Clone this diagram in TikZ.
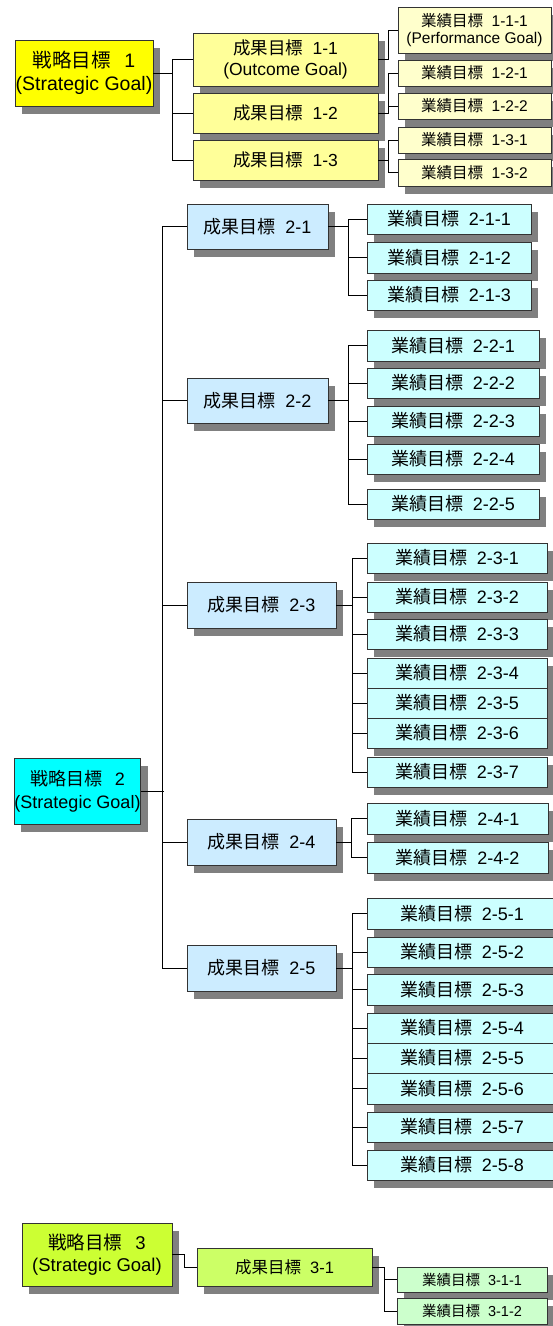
\documentclass[tikz,border=0pt]{standalone}
\usepackage{fontspec}
\setmainfont{Liberation Sans}
\newfontfamily\cjk{Noto Sans CJK JP}
\usetikzlibrary{shadows}
\definecolor{sgone}{HTML}{FFFF00}
\definecolor{ogone}{HTML}{FFFF99}
\definecolor{pgone}{HTML}{FFFFCC}
\definecolor{sgtwo}{HTML}{00FFFF}
\definecolor{ogtwo}{HTML}{CCECFF}
\definecolor{pgtwo}{HTML}{CCFFFF}
\definecolor{sgthree}{HTML}{CCFF33}
\definecolor{ogthree}{HTML}{CCFF66}
\definecolor{pgthree}{HTML}{CCFFCC}
\definecolor{shade}{HTML}{808080}
\newcommand\jlabel[3][0.55em]{{\cjk #2}\hspace{#1}#3}
\tikzset{
  gbox/.style={draw=black!80, line width=0.8pt, inner sep=0pt, align=center,
    drop shadow={shadow xshift=7pt, shadow yshift=-8pt, fill=shade, opacity=1}},
  conn/.style={draw=black, line width=0.9pt},
  sgA/.style={gbox, fill=sgone, font=\fontsize{19.5}{23.5}\selectfont},
  ogA/.style={gbox, fill=ogone, font=\fontsize{17.5}{21}\selectfont},
  pgA/.style={gbox, fill=pgone, font=\fontsize{15.5}{17}\selectfont},
  sgB/.style={gbox, fill=sgtwo, font=\fontsize{18}{23}\selectfont},
  ogB/.style={gbox, fill=ogtwo, font=\fontsize{18}{21}\selectfont},
  pgB/.style={gbox, fill=pgtwo, font=\fontsize{18}{21}\selectfont},
  sgC/.style={gbox, fill=sgthree, font=\fontsize{18.5}{22}\selectfont},
  ogC/.style={gbox, fill=ogthree, font=\fontsize{16.5}{20}\selectfont},
  pgC/.style={gbox, fill=pgthree, font=\fontsize{14.5}{17}\selectfont}
}
\begin{document}
\begin{tikzpicture}[x=1pt,y=-1pt]
\useasboundingbox (0,0) rectangle (552,1326);
% ---------- Section 1 ----------
\node[sgA, minimum width=138pt, minimum height=66pt] (sg1) at (84,73) {\jlabel[0.7em]{戦略目標}{1}\\(Strategic Goal)};
\node[ogA, minimum width=185pt, minimum height=53pt] (og11) at (285.5,59.5) {\jlabel{成果目標}{1-1}\\(Outcome Goal)};
\node[ogA, minimum width=185pt, minimum height=40pt] (og12) at (285.5,113) {\jlabel{成果目標}{1-2}};
\node[ogA, minimum width=185pt, minimum height=40pt] (og13) at (285.5,160) {\jlabel{成果目標}{1-3}};
\node[pgA, minimum width=153pt, minimum height=46pt] (pg111) at (474.5,30) {\jlabel{業績目標}{1-1-1}\\(Performance Goal)};
\node[pgA, minimum width=153pt, minimum height=26pt] (pg121) at (474.5,73) {\jlabel{業績目標}{1-2-1}};
\node[pgA, minimum width=153pt, minimum height=26pt] (pg122) at (474.5,106) {\jlabel{業績目標}{1-2-2}};
\node[pgA, minimum width=153pt, minimum height=26pt] (pg131) at (474.5,140) {\jlabel{業績目標}{1-3-1}};
\node[pgA, minimum width=153pt, minimum height=27pt] (pg132) at (474.5,172.5) {\jlabel{業績目標}{1-3-2}};
% ---------- Section 2 ----------
\node[sgB, minimum width=125pt, minimum height=66pt] (sg2) at (77.5,791) {\jlabel[0.7em]{戦略目標}{2}\\(Strategic Goal)};
\node[ogB, minimum width=141pt, minimum height=45pt] (og21) at (257.5,226.5) {\jlabel{成果目標}{2-1}};
\node[ogB, minimum width=141pt, minimum height=45pt] (og22) at (257.5,400.5) {\jlabel{成果目標}{2-2}};
\node[ogB, minimum width=149pt, minimum height=46pt] (og23) at (261.5,605) {\jlabel{成果目標}{2-3}};
\node[ogB, minimum width=149pt, minimum height=46pt] (og24) at (261.5,842) {\jlabel{成果目標}{2-4}};
\node[ogB, minimum width=149pt, minimum height=46pt] (og25) at (261.5,968) {\jlabel{成果目標}{2-5}};
\foreach \n/\y/\h in {1/219/30,2/257.5/31,3/295/30}
  \node[pgB, minimum width=164pt, minimum height=\h pt] (pg21\n) at (449,\y) {\jlabel{業績目標}{2-1-\n}};
\foreach \n/\y/\h in {1/345.5/31,2/383/30,3/421/30,4/459/30,5/504/30}
  \node[pgB, minimum width=172pt, minimum height=\h pt] (pg22\n) at (453,\y) {\jlabel{業績目標}{2-2-\n}};
\foreach \n/\y in {1/558,2/597,3/634,4/673,5/703,6/733,7/772}
  \node[pgB, minimum width=180pt, minimum height=30pt] (pg23\n) at (457,\y) {\jlabel{業績目標}{2-3-\n}};
\foreach \n/\y in {1/818.5,2/857.5}
  \node[pgB, minimum width=181pt, minimum height=31pt] (pg24\n) at (457.5,\y) {\jlabel{業績目標}{2-4-\n}};
\foreach \n/\y/\h in {1/913.5/31,2/952/30,3/989.5/31,4/1028/30,5/1058/30,6/1088.5/31,7/1127/30,8/1165/30}
  \node[pgB, minimum width=190pt, minimum height=\h pt] (pg25\n) at (462,\y) {\jlabel{業績目標}{2-5-\n}};
% ---------- Section 3 ----------
\node[sgC, minimum width=150pt, minimum height=63pt] (sg3) at (97,1254.5) {\jlabel[0.7em]{戦略目標}{3}\\(Strategic Goal)};
\node[ogC, minimum width=175pt, minimum height=38pt] (og31) at (284.5,1267) {\jlabel{成果目標}{3-1}};
\node[pgC, minimum width=150pt, minimum height=25pt] (pg311) at (472,1279.5) {\jlabel{業績目標}{3-1-1}};
\node[pgC, minimum width=150pt, minimum height=26pt] (pg312) at (472,1311) {\jlabel{業績目標}{3-1-2}};
% ---------- Connectors ----------
\draw[conn] (sg1.east) -- ++(20,0);
\draw[conn] (og11.west) -- ++(-20,0) |- (og13.west);
\draw[conn] (og12.west) -- ++(-20,0);
\draw[conn] (og11.east) -- ++(10,0) |- (pg111.west);
\draw[conn] (og12.east) -- ++(10,0) |- (pg121.west);
\draw[conn] (og12.east) -- ++(10,0) |- (pg122.west);
\draw[conn] (og13.east) -- ++(10,0) |- (pg131.west);
\draw[conn] (og13.east) -- ++(10,0) |- (pg132.west);
\draw[conn] (sg2.east) -- ++(23,0);
\draw[conn] (og21.west) -- ++(-24,0) |- (og25.west);
\foreach \o in {og22,og23,og24} \draw[conn] (\o.west) -- ++(-24,0);
\foreach \n in {1,2,3} \draw[conn] (og21.east) -- ++(20,0) |- (pg21\n.west);
\foreach \n in {1,...,5} \draw[conn] (og22.east) -- ++(20,0) |- (pg22\n.west);
\foreach \n in {1,...,7} \draw[conn] (og23.east) -- ++(16,0) |- (pg23\n.west);
\foreach \n in {1,2} \draw[conn] (og24.east) -- ++(15,0) |- (pg24\n.west);
\foreach \n in {1,...,8} \draw[conn] (og25.east) -- ++(16,0) |- (pg25\n.west);
\draw[conn] (sg3.east) -- ++(12,0) |- (og31.west);
\draw[conn] (og31.east) -- ++(12,0) |- (pg311.west);
\draw[conn] (og31.east) -- ++(12,0) |- (pg312.west);
\end{tikzpicture}
\end{document}
